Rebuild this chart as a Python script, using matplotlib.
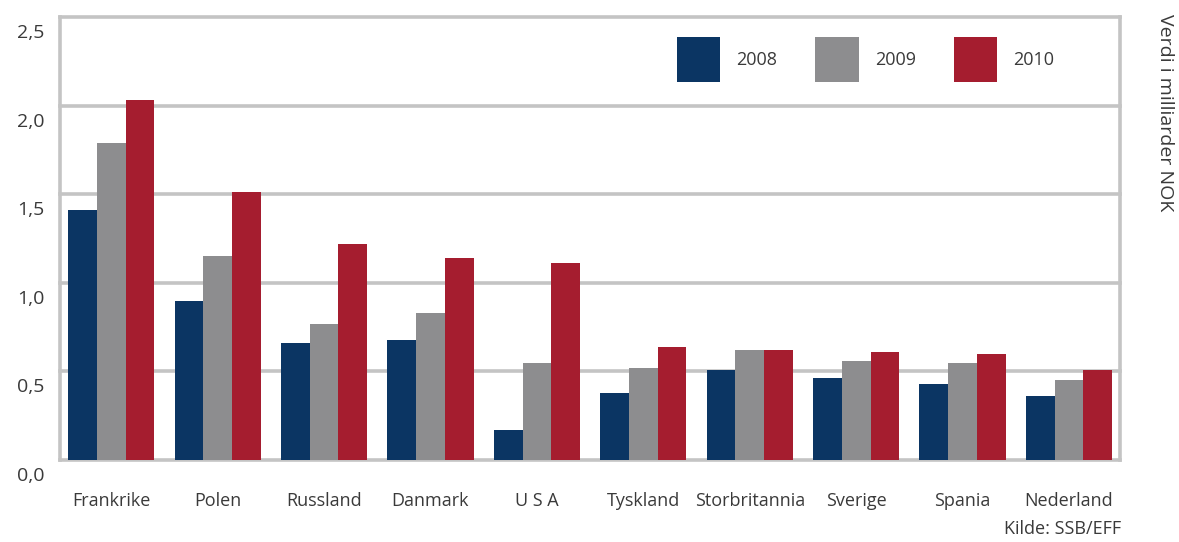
import numpy as np
import matplotlib
matplotlib.use("Agg")
import matplotlib.pyplot as plt
from matplotlib.transforms import ScaledTranslation

# eksportverdi per land, milliarder NOK
land = ["Frankrike", "Polen", "Russland", "Danmark", "U S A", "Tyskland",
        "Storbritannia", "Sverige", "Spania", "Nederland"]
aar = ["2008", "2009", "2010"]
v2008 = [1.41, 0.90, 0.66, 0.68, 0.17, 0.38, 0.51, 0.46, 0.43, 0.36]
v2009 = [1.79, 1.15, 0.77, 0.83, 0.55, 0.52, 0.62, 0.56, 0.55, 0.45]
v2010 = [2.03, 1.51, 1.22, 1.14, 1.11, 0.64, 0.62, 0.61, 0.60, 0.51]
yticks = [0.0, 0.5, 1.0, 1.5, 2.0, 2.5]
ytick_labels = ["0,0", "0,5", "1,0", "1,5", "2,0", "2,5"]

farger = ["#0b3563", "#8d8d8f", "#a51d2f"]
grid_c = "#c4c4c4"
tekst_c = "#3a3a3a"
fs = 13

plt.rcParams["font.family"] = ["Open Sans", "DejaVu Sans"]

fig = plt.figure(figsize=(11.79, 5.42), dpi=100)
ax = fig.add_axes([0.051, 0.1513, 0.899, 0.8173])

x = np.arange(len(land))
w = 0.27
for i, (vals, c, lab) in enumerate(zip([v2008, v2009, v2010], farger, aar)):
    ax.bar(x + (i - 1) * w, vals, width=w, color=c, label=lab, zorder=3)

ax.set_xlim(-0.48, len(land) - 1 + 0.48)
ax.set_ylim(0, 2.5)
ax.set_yticks(yticks)
ax.set_yticklabels(ytick_labels, fontsize=fs + 1, color=tekst_c)
ax.set_xticks(x)
ax.set_xticklabels(land, fontsize=fs, color=tekst_c)
ax.tick_params(length=0)
ax.tick_params(axis="x", pad=23)
ax.tick_params(axis="y", pad=11)

# tallene på y-aksen står litt under linjene
off = ScaledTranslation(0, -10 / 72, fig.dpi_scale_trans)
for lbl in ax.get_yticklabels():
    lbl.set_transform(lbl.get_transform() + off)

for yv in yticks:
    ax.axhline(yv, color=grid_c, lw=2.6, zorder=1, clip_on=False)
for s in ["top", "bottom"]:
    ax.spines[s].set_visible(False)
for s in ["left", "right"]:
    ax.spines[s].set_color(grid_c)
    ax.spines[s].set_linewidth(2.6)

leg = ax.legend(loc="upper left", bbox_to_anchor=(0.565, 0.995), ncol=3,
                frameon=True, fontsize=fs, handlelength=2.4, handleheight=3.4,
                handletextpad=0.9, columnspacing=2.1, borderpad=0.5)
leg.get_frame().set_facecolor("white")
leg.get_frame().set_edgecolor("white")
for t in leg.get_texts():
    t.set_color(tekst_c)

fig.text(0.988, 0.975, "Verdi i milliarder NOK", rotation=270, ha="center",
         va="top", fontsize=fs + 1, color=tekst_c)
fig.text(0.951, 0.008, "Kilde: SSB/EFF", ha="right", va="bottom",
         fontsize=fs, color=tekst_c)

fig.savefig("out.png", dpi=100)
